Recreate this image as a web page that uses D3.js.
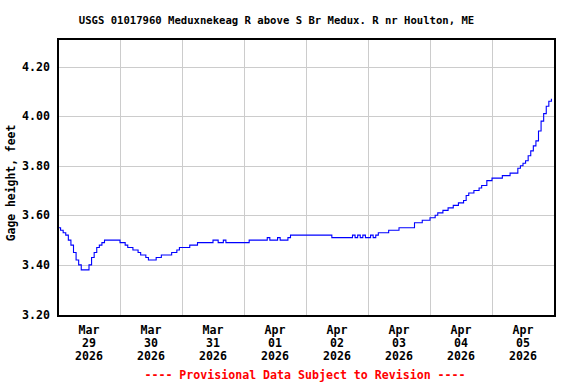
<!DOCTYPE html>
<html><head><meta charset="utf-8">
<script src="https://cdn.jsdelivr.net/npm/d3@7/dist/d3.min.js"></script>
<style>
body{margin:0;background:#fff}
svg{display:block}
text{font-family:"DejaVu Sans Mono","Liberation Mono",monospace;font-weight:bold}
</style>
</head><body><svg id="c" width="576" height="384"></svg>
<script>
const title = "USGS 01017960 Meduxnekeag R above S Br Medux. R nr Houlton, ME";
const yLabel = "Gage height, feet";
const footer = "---- Provisional Data Subject to Revision ----";
const startTime = "2026-03-29T00:00:00Z";
const endTime = "2026-04-06T00:00:00Z";
const yTicks = [3.20, 3.40, 3.60, 3.80, 4.00, 4.20];
const tickDates = ["2026-03-29","2026-03-30","2026-03-31","2026-04-01","2026-04-02","2026-04-03","2026-04-04","2026-04-05"];
const tickMonths = ["Mar","Mar","Mar","Apr","Apr","Apr","Apr","Apr"];
const tickDays = ["29","30","31","01","02","03","04","05"];
const tickYears = ["2026","2026","2026","2026","2026","2026","2026","2026"];

// hourly gage height, feet
const mar29 = [3.55,3.54,3.53,3.52,3.50,3.48,3.45,3.42,3.40,3.38,3.38,3.38,3.40,3.43,3.45,3.47,3.48,3.49,3.50,3.50,3.50,3.50,3.50,3.50];
const mar30 = [3.49,3.49,3.48,3.47,3.47,3.46,3.46,3.45,3.44,3.44,3.43,3.42,3.42,3.42,3.43,3.43,3.44,3.44,3.44,3.44,3.45,3.45,3.46,3.47];
const mar31 = [3.47,3.47,3.47,3.48,3.48,3.48,3.49,3.49,3.49,3.49,3.49,3.49,3.50,3.50,3.49,3.49,3.50,3.49,3.49,3.49,3.49,3.49,3.49,3.49];
const apr01 = [3.49,3.49,3.50,3.50,3.50,3.50,3.50,3.50,3.50,3.51,3.50,3.50,3.50,3.51,3.50,3.50,3.50,3.51,3.52,3.52,3.52,3.52,3.52,3.52];
const apr02 = [3.52,3.52,3.52,3.52,3.52,3.52,3.52,3.52,3.52,3.52,3.51,3.51,3.51,3.51,3.51,3.51,3.51,3.51,3.52,3.51,3.52,3.51,3.52,3.51];
const apr03 = [3.51,3.52,3.51,3.52,3.53,3.53,3.53,3.53,3.54,3.54,3.54,3.54,3.55,3.55,3.55,3.55,3.55,3.55,3.57,3.57,3.57,3.58,3.58,3.58];
const apr04 = [3.59,3.59,3.60,3.61,3.61,3.62,3.62,3.63,3.63,3.64,3.64,3.65,3.65,3.66,3.68,3.69,3.69,3.70,3.70,3.71,3.72,3.72,3.74,3.74];
const apr05 = [3.75,3.75,3.75,3.75,3.76,3.76,3.76,3.77,3.77,3.77,3.79,3.80,3.81,3.82,3.84,3.86,3.88,3.90,3.94,3.98,4.01,4.04,4.06,4.07];

const heights = [].concat(mar29, mar30, mar31, apr01, apr02, apr03, apr04, apr05);
const t0 = new Date(startTime);
const data = heights.map((v, i) => ({t: new Date(t0.getTime() + i * 3600e3), v}));

const svg = d3.select("#c");
const L = 58, R = 554, T = 39, B = 316;
const x = d3.scaleUtc().domain([t0, new Date(endTime)]).range([L, R]);
const y = d3.scaleLinear().domain([3.194, 4.311]).range([B, T]);

svg.append("rect").attr("width", 576).attr("height", 384).attr("fill", "#fff");

// grid
const grid = svg.append("g").attr("stroke", "#cccccc").attr("stroke-width", 1).attr("shape-rendering", "crispEdges");
grid.selectAll("line.h").data(yTicks).join("line").attr("class","h")
  .attr("x1", L).attr("x2", R).attr("y1", d => Math.round(y(d)) + 0.5).attr("y2", d => Math.round(y(d)) + 0.5);
const midnights = tickDates.slice(1).map(d => new Date(d + "T00:00:00Z"));
grid.selectAll("line.v").data(midnights).join("line").attr("class","v")
  .attr("y1", T).attr("y2", B).attr("x1", d => Math.round(x(d)) + 0.5).attr("x2", d => Math.round(x(d)) + 0.5);

// series
svg.append("path").datum(data)
  .attr("fill", "none").attr("stroke", "#0000ff").attr("stroke-width", 1.1)
  .attr("d", d3.line().x(d => x(d.t)).y(d => y(d.v)).curve(d3.curveStepAfter));

// frame
svg.append("rect").attr("x", L).attr("y", T).attr("width", R - L + 1).attr("height", B - T)
  .attr("fill", "none").attr("stroke", "#000").attr("stroke-width", 2).attr("shape-rendering", "crispEdges");

// y tick labels
svg.append("g").selectAll("text").data(yTicks).join("text")
  .attr("x", 50).attr("y", d => y(d) + 4).attr("text-anchor", "end")
  .attr("font-size", 11.6).text(d => d3.format(".2f")(d));

// x tick labels
const xl = svg.append("g").selectAll("text").data(tickDates).join("text")
  .attr("text-anchor", "middle").attr("font-size", 11.6)
  .attr("transform", d => `translate(${x(new Date(d + "T12:00:00Z"))},0)`);
xl.append("tspan").attr("x", 0).attr("y", 334).text((d, i) => tickMonths[i]);
xl.append("tspan").attr("x", 0).attr("y", 347).text((d, i) => tickDays[i]);
xl.append("tspan").attr("x", 0).attr("y", 360).text((d, i) => tickYears[i]);

// titles
svg.append("text").attr("x", 276.5).attr("y", 23.5).attr("text-anchor", "middle")
  .attr("font-size", 10.6).text(title);
svg.append("text").attr("transform", "translate(15,183) rotate(-90)").attr("text-anchor", "middle")
  .attr("font-size", 11.4).text(yLabel);
svg.append("text").attr("x", 305).attr("y", 378.5).attr("text-anchor", "middle")
  .attr("font-size", 11.6).attr("fill", "#ff0000").text(footer);
</script>
</body></html>
